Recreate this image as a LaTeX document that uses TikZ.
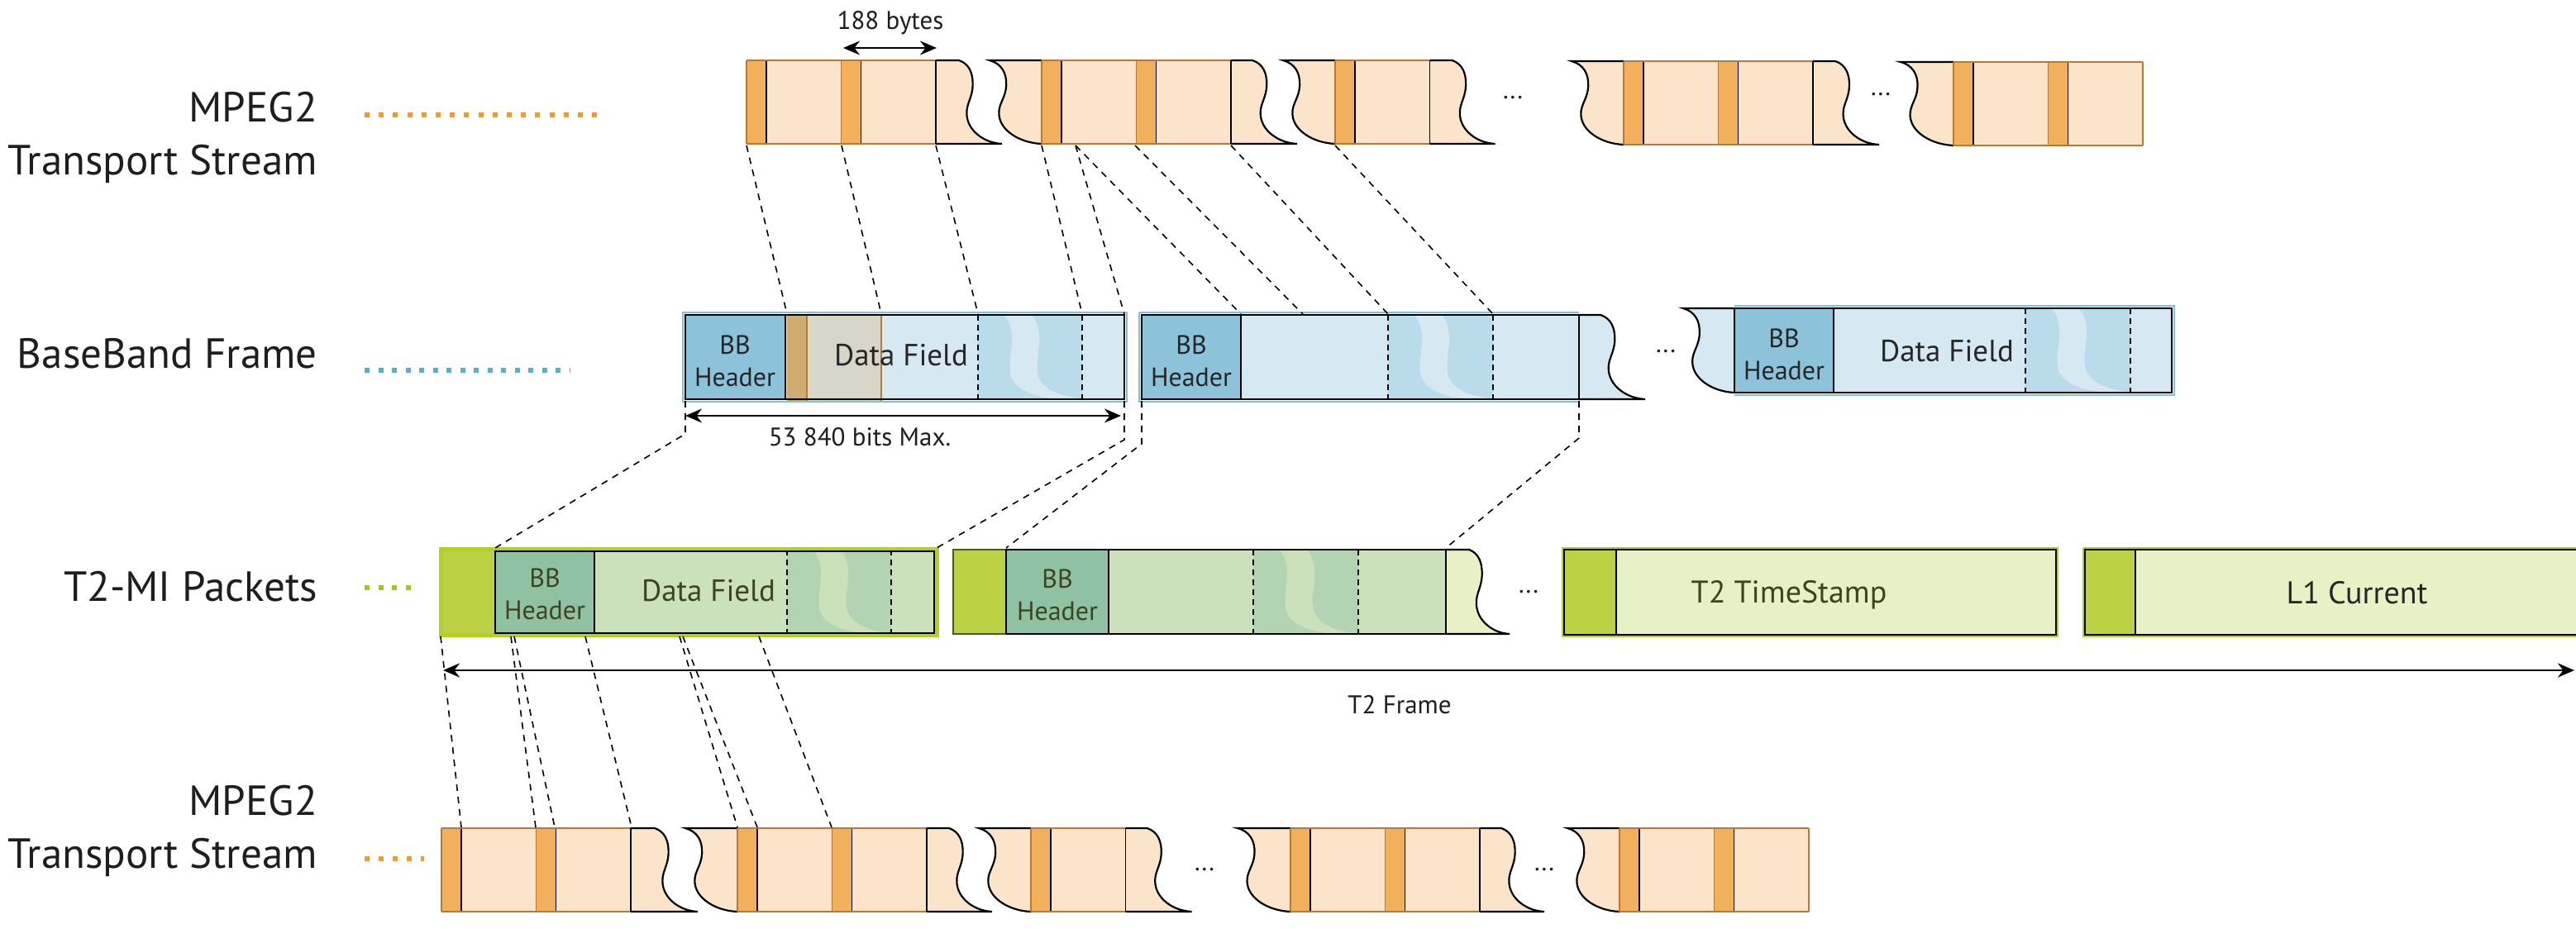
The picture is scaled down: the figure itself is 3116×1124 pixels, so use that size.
\documentclass[tikz,border=0pt]{standalone}
\usepackage{fontspec}
\setmainfont{PT Sans}
\usetikzlibrary{arrows.meta}
\definecolor{tsor}{HTML}{F2B05C}
\definecolor{tslt}{HTML}{FBE4CA}
\definecolor{tsbr}{HTML}{B57A35}
\definecolor{bbhd}{HTML}{8CC3DA}
\definecolor{bbdf}{HTML}{D6E9F2}
\definecolor{bbdk}{HTML}{B9DBEA}
\definecolor{bbol}{HTML}{7FC1DD}
\definecolor{t2gr}{HTML}{BCD244}
\definecolor{t2hd}{HTML}{8FC1A3}
\definecolor{t2df}{HTML}{CAE1BB}
\definecolor{t2dk}{HTML}{B3D4B3}
\definecolor{t2lt}{HTML}{E8F0C5}
\definecolor{t2ol}{HTML}{B3CD2A}
\definecolor{t2tx}{HTML}{3F4420}
\definecolor{t2bd}{HTML}{4E5528}
\definecolor{dotor}{HTML}{F39A2B}
\definecolor{dotbl}{HTML}{5AAED0}
\definecolor{dotgr}{HTML}{A6C51E}
\definecolor{ovor}{HTML}{CFAD72}
\definecolor{ovgy}{HTML}{D6D7C9}
\definecolor{lbl}{HTML}{1E1E1E}
\tikzset{
  wv/.style n args={4}{insert path={.. controls (#1+0.23*#3,#2+0.04*#4) and (#1+0.33*#3,#2+0.15*#4) .. (#1+0.32*#3,#2+0.3*#4) .. controls (#1+0.31*#3,#2+0.45*#4) and (#1+0.17*#3,#2+0.52*#4) .. (#1+0.18*#3,#2+0.64*#4) .. controls (#1+0.19*#3,#2+0.84*#4) and (#1+0.58*#3,#2+0.99*#4) .. (#1+#3,#2+#4)}},
  bf/.style n args={2}{insert path={.. controls (#1+6,#2+5) and (#1+10,#2+14) .. (#1+10,#2+30) .. controls (#1+10,#2+46) and (#1+6,#2+56) .. (#1+8,#2+70) .. controls (#1+10,#2+90) and (#1+40,#2+102) .. (#1+76,#2+102)}},
  br/.style n args={2}{insert path={.. controls (#1+40,#2+102) and (#1+10,#2+90) .. (#1+8,#2+70) .. controls (#1+6,#2+56) and (#1+10,#2+46) .. (#1+10,#2+30) .. controls (#1+10,#2+14) and (#1+6,#2+5) .. (#1,#2)}},
  waveln/.style={black,line width=2.2},
  dashv/.style={black,line width=1.6,dash pattern=on 7 off 5},
  conn/.style={black,line width=1.6,dash pattern=on 8 off 7},
  dimarr/.style={black,line width=2.4,{Stealth[length=20,width=17]}-{Stealth[length=20,width=17]}},
  rowlbl/.style={text=lbl,inner sep=0,align=right,font=\fontsize{51}{64}\selectfont},
  bbtxt/.style={text=black!85,inner sep=0,align=center,font=\fontsize{32}{39}\selectfont},
  t2txt/.style={text=t2tx,inner sep=0,align=center,font=\fontsize{32}{39}\selectfont},
  dftxt/.style={inner sep=0,font=\fontsize{37}{40}\selectfont},
  smtxt/.style={text=lbl,inner sep=0,font=\fontsize{31}{34}\selectfont},
}
% TS packets block: start, count, top
\newcommand\tsblock[3]{%
  \foreach \k in {1,...,#2}{%
    \pgfmathsetmacro\px{#1+(\k-1)*114.5}
    \fill[tslt] (\px,#3) rectangle (\px+114.5,#3+101);
    \fill[tsor] (\px,#3) rectangle (\px+24,#3+101);
    \draw[tsbr,line width=1.3] (\px,#3) -- (\px,#3+101);
    \draw[black,line width=1.4] (\px+24,#3) -- (\px+24,#3+101);
  }
  \draw[tsbr,line width=1.6] (#1,#3) -- (#1+#2*114.5,#3) (#1,#3+101) -- (#1+#2*114.5,#3+101);
}
% right torn edge: end x, top, height, fill, top offset, width
\newcommand\rwave[6]{%
  \fill[#4] (#1,#2) -- (#1+#5,#2) [wv={#1+#5}{#2}{#6}{#3}] -- (#1,#2+#3) -- cycle;
  \draw[waveln] (#1,#2) -- (#1+#5,#2) [wv={#1+#5}{#2}{#6}{#3}] -- (#1,#2+#3);
  \draw[black,line width=1.8] (#1,#2) -- (#1,#2+#3);
}
% left torn edge: start x, top, height, fill, width
\newcommand\lwave[5]{%
  \fill[#4] (#1-#5,#2) [wv={#1-#5}{#2}{#5}{#3}] -- (#1,#2) -- cycle;
  \draw[waveln] (#1,#2) -- (#1-#5,#2) [wv={#1-#5}{#2}{#5}{#3}];
}
% break band: d1, d2, top, height, dark, light
\newcommand\band[6]{%
  \fill[#5] (#1,#3) rectangle (#2,#3+#4);
  \begin{scope}
    \clip (#1,#3) rectangle (#2,#3+#4);
    \fill[#6] (#1+31,#3) [bf={#1+31}{#3}] -- (#1+64+76,#3+102) [br={#1+64}{#3}] -- cycle;
  \end{scope}
  \draw[dashv] (#1,#3) -- (#1,#3+#4) (#2,#3) -- (#2,#3+#4);
}
\begin{document}
\begin{tikzpicture}[x=1pt,y=-1pt]
\useasboundingbox (0,0) rectangle (3116,1124);

% ---------------- row labels ----------------
\node[rowlbl,anchor=east] (lblTop) at (384,166) {MPEG2\\Transport Stream};
\node[rowlbl,anchor=east] (lblBB) at (384,428) {BaseBand Frame};
\node[rowlbl,anchor=east] (lblT2) at (384,710) {T2-MI Packets};
\node[rowlbl,anchor=east] (lblBot) at (384,1005) {MPEG2\\Transport Stream};
\draw[dotor,line width=6,dash pattern=on 6 off 11.2] (441,139) -- (732,139);
\draw[dotbl,line width=6,dash pattern=on 6 off 10.5] (441,448) -- (690,448);
\draw[dotgr,line width=6,dash pattern=on 6 off 10.5] (441,711) -- (499,711);
\draw[dotor,line width=6,dash pattern=on 6 off 11] (441,1039) -- (513,1039);

% ---------------- top TS row ----------------
\tsblock{903}{2}{73}
\rwave{1132}{73}{101}{tslt}{28}{52}
\lwave{1260}{73}{101}{tslt}{63}
\tsblock{1260}{2}{73}
\rwave{1489}{73}{101}{tslt}{26}{54}
\lwave{1615}{73}{101}{tslt}{63}
\tsblock{1615}{1}{73}
\rwave{1729.5}{73}{101}{tslt}{27}{52}
\lwave{1964}{74}{101}{tslt}{63}
\tsblock{1964}{2}{74}
\rwave{2193}{74}{101}{tslt}{27}{53}
\lwave{2363}{75}{101}{tslt}{64}
\tsblock{2363}{2}{75}
\draw[tsbr,line width=1.6] (2592,75) -- (2592,176);
\node[smtxt] (dotsT1) at (1830,118) {...};
\node[smtxt] (dotsT2) at (2275,114) {...};

% 188 bytes
\coordinate (b188l) at (1020,58);
\coordinate (b188r) at (1133,58);
\draw[dimarr] (b188l) -- (b188r);
\node[smtxt] (t188) at (1077,28) {188 bytes};

% ---------------- BaseBand row ----------------
% frame 1
\fill[bbdf] (829,381) rectangle (1360,483);
\fill[bbhd] (829,381) rectangle (950,483);
\band{1183}{1309}{381}{102}{bbdk}{bbdf}
\fill[ovor] (952,381) rectangle (976,486);
\fill[ovgy] (976,381) rectangle (1066,486);
\draw[tsbr,line width=1.2] (952,486) -- (1066,486) (976,381) -- (976,486) (1066,381) -- (1066,486);
\draw[bbol,line width=1.2] (826,378) rectangle (1363,486);
\draw[black,line width=1.8] (829,381) rectangle (1360,483);
\draw[black,line width=1.4] (950,381) -- (950,483);
\node[bbtxt] (bb1h) at (889,437) {BB\\Header};
\node[dftxt,text=black!85] (bb1d) at (1090,430) {Data Field};
% frame 2
\fill[bbdf] (1381,381) rectangle (1910,483);
\fill[bbhd] (1381,381) rectangle (1501,483);
\band{1679}{1806}{381}{102}{bbdk}{bbdf}
\rwave{1910}{381}{102}{bbdf}{26}{54}
\draw[bbol,line width=1.2] (1378,378) -- (1910,378) (1378,378) -- (1378,486) -- (1910,486);
\draw[black,line width=1.8] (1381,381) rectangle (1910,483);
\draw[black,line width=1.4] (1501,381) -- (1501,483);
\node[bbtxt] (bb2h) at (1441,437) {BB\\Header};
% frame 3
\lwave{2098}{373}{102}{bbdf}{62}
\fill[bbdf] (2098,373) rectangle (2627,475);
\fill[bbhd] (2098,373) rectangle (2218,475);
\band{2450}{2577}{373}{102}{bbdk}{bbdf}
\draw[bbol,line width=1.2] (2098,370) -- (2630,370) -- (2630,478) -- (2098,478);
\draw[black,line width=1.8] (2098,373) rectangle (2627,475);
\draw[black,line width=1.4] (2218,373) -- (2218,475);
\node[bbtxt] (bb3h) at (2158,429) {BB\\Header};
\node[dftxt,text=black!85] (bb3d) at (2355,425) {Data Field};
\node[smtxt] (dotsB) at (2015,425) {...};

% 53 840 bits
\coordinate (bitsl) at (829,503);
\coordinate (bitsr) at (1356,503);
\draw[dimarr] (bitsl) -- (bitsr);
\node[smtxt] (tbits) at (1040,529) {53 840 bits Max.};

% ---------------- T2-MI row ----------------
% packet 1 (highlighted)
\fill[t2gr] (533,665) rectangle (599,767);
\fill[t2df] (599,665) rectangle (1130,767);
\fill[t2hd] (599,665) rectangle (719,767);
\band{952}{1078}{665}{102}{t2dk}{t2df}
\draw[t2ol,line width=5] (533,664) rectangle (1133,768);
\draw[black,line width=1.8] (599,667) rectangle (1130,766);
\draw[black,line width=1.3] (719,667) -- (719,766);
\node[t2txt] (t21h) at (659,719) {BB\\Header};
\node[dftxt,text=t2tx] (t21d) at (857,715) {Data Field};
% packet 2
\fill[t2gr] (1153,665) rectangle (1217,767);
\draw[t2bd,line width=1.5] (1153,665) rectangle (1217,767);
\fill[t2df] (1217,665) rectangle (1749,767);
\fill[t2hd] (1217,665) rectangle (1341,767);
\band{1516}{1643}{665}{102}{t2dk}{t2df}
\rwave{1749}{665}{102}{t2lt}{28}{49}
\draw[black,line width=1.8] (1217,665) rectangle (1749,767);
\draw[black,line width=1.3] (1341,665) -- (1341,767);
\node[t2txt] (t22h) at (1279,720) {BB\\Header};
\node[smtxt] (dotsM) at (1849,716) {...};
% timestamp
\fill[t2lt] (1892,665) rectangle (2487,768);
\fill[t2gr] (1892,665) rectangle (1955,768);
\draw[t2ol,line width=1.5] (1890,663) rectangle (2489,770);
\draw[black,line width=1.6] (1892,665) rectangle (2487,768);
\draw[black,line width=1.2] (1955,665) -- (1955,768);
\node[dftxt,text=t2tx,font=\fontsize{38}{40}\selectfont] (tts) at (2164,720) {T2 TimeStamp};
% L1 current
\fill[t2lt] (2522,665) rectangle (3116,768);
\fill[t2gr] (2522,665) rectangle (2583,768);
\draw[t2ol,line width=1.5] (2520,663) -- (3116,663) (2520,663) -- (2520,770) -- (3116,770);
\draw[black,line width=1.6] (3116,665) -- (2522,665) -- (2522,768) -- (3116,768);
\draw[black,line width=1.2] (2583,665) -- (2583,768);
\node[dftxt,text=black!85,font=\fontsize{38}{40}\selectfont] (tl1) at (2851,717) {L1 Current};

% T2 frame
\coordinate (t2fl) at (536,811);
\coordinate (t2fr) at (3114,811);
\draw[dimarr,line width=2.8] (t2fl) -- (t2fr);
\node[smtxt] (t2ft) at (1693,853) {T2 Frame};

% ---------------- bottom TS row ----------------
\tsblock{534}{2}{1002}
\rwave{763}{1002}{101}{tslt}{29}{52}
\lwave{892}{1002}{101}{tslt}{63}
\tsblock{892}{2}{1002}
\rwave{1121}{1002}{101}{tslt}{27}{52}
\lwave{1247}{1002}{101}{tslt}{63}
\tsblock{1247}{1}{1002}
\rwave{1361.5}{1002}{101}{tslt}{26}{54}
\lwave{1561}{1002}{101}{tslt}{64}
\tsblock{1561}{2}{1002}
\rwave{1790}{1002}{101}{tslt}{26}{52}
\lwave{1959}{1002}{101}{tslt}{63}
\tsblock{1959}{2}{1002}
\draw[tsbr,line width=1.6] (2188,1002) -- (2188,1103);
\node[smtxt] (dotsL1) at (1457,1052) {...};
\node[smtxt] (dotsL2) at (1868,1052) {...};

% ---------------- connectors ----------------
\foreach \i/\a/\b in {1/903/952,2/1018/1066,3/1132/1183,4/1260/1309,5/1301/1360,6/1301/1501,7/1373/1576,8/1489/1679,9/1615/1806}{
  \coordinate (tsA\i) at (\a,176);
  \coordinate (bbA\i) at (\b,380);
  \draw[conn] (tsA\i) -- (bbA\i);
}
\foreach \i/\a/\m/\b in {1/829/525/599,2/1360/532/1133,3/1381/537/1217,4/1910/530/1749}{
  \coordinate (bbB\i) at (\a,485);
  \coordinate (bbK\i) at (\a,\m);
  \coordinate (t2B\i) at (\b,663);
  \draw[conn] (bbB\i) -- (bbK\i) -- (t2B\i);
}
\foreach \i/\a/\b in {1/533/558,2/618/648,3/622/671,4/708/764,5/822/892,6/826/916,7/918/1006}{
  \coordinate (t2C\i) at (\a,770);
  \coordinate (tsC\i) at (\b,1001);
  \draw[conn] (t2C\i) -- (tsC\i);
}
\end{tikzpicture}
\end{document}
